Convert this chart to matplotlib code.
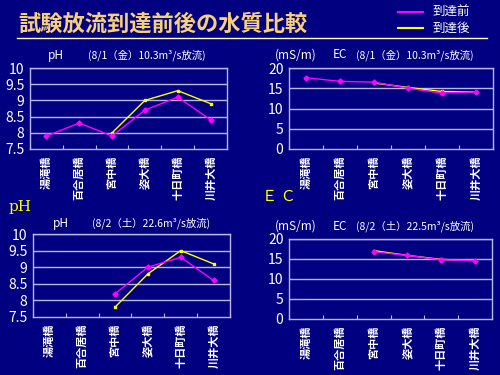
import matplotlib
matplotlib.use('Agg')

import numpy as np
import matplotlib.pyplot as plt

plt.rcParams['font.family'] = ['Noto Sans CJK JP', 'DejaVu Sans']

# stations (upstream -> downstream)
stations = ['湯滝橋', '百合居橋', '宮中橋', '姿大橋', '十日町橋', '川井大橋']
nan = np.nan

# pH 8/1
ph1_before = [7.9, 8.3, 7.9, 8.7, 9.1, 8.4]
ph1_after = [nan, nan, 8.0, 9.0, 9.3, 8.9]
# EC 8/1
ec1_before = [17.6, 16.7, 16.5, 15.0, 13.8, 14.1]
ec1_after = [nan, nan, 16.3, 15.2, 14.2, 14.1]
# pH 8/2
ph2_before = [nan, nan, 8.2, 9.0, 9.3, 8.6]
ph2_after = [nan, nan, 7.8, 8.8, 9.5, 9.1]
# EC 8/2
ec2_before = [nan, nan, 16.8, 15.9, 14.8, 14.6]
ec2_after = [nan, nan, 17.1, 15.9, 14.9, 14.6]

ph_ticks = [7.5, 8, 8.5, 9, 9.5, 10]
ec_ticks = [0, 5, 10, 15, 20]

BG = '#000080'
GRID = '#b8b8e8'
MAG = '#ff00ff'
YEL = '#ffff00'

W, H = 500, 375
fig = plt.figure(figsize=(5, 3.75), dpi=100, facecolor=BG)


def px_axes(x0, y0, x1, y1):
    return fig.add_axes([x0 / W, 1 - y1 / H, (x1 - x0) / W, (y1 - y0) / H])


def fx(px):
    return px / W


def fy(py):
    return 1 - py / H


def draw(ax, before, after, ylim, yticks):
    x = np.arange(len(stations))
    ax.set_facecolor(BG)
    for y in yticks[1:]:
        ax.axhline(y, color=GRID, lw=1)
    ax.plot(x, after, color=YEL, lw=1, marker='s', ms=1.8, mfc=YEL, mec=YEL, zorder=3)
    ax.plot(x, before, color=MAG, lw=1, marker='D', ms=2.6, mfc=MAG, mec=MAG, zorder=4)
    ax.set_xlim(-0.5, len(stations) - 0.5)
    ax.set_ylim(*ylim)
    ax.set_yticks(yticks)
    ax.set_yticklabels(['%g' % v for v in yticks], color='white', fontsize=10)
    ax.set_xticks(np.arange(len(stations) + 1) - 0.5)
    ax.set_xticklabels([])
    ax.set_xticks(x, minor=True)
    ax.set_xticklabels(stations, minor=True, rotation=90, color='white',
                       fontsize=8, fontweight='bold')
    ax.tick_params(axis='x', which='major', direction='in', length=3, color=GRID)
    ax.tick_params(axis='x', which='minor', length=0, pad=5)
    ax.tick_params(axis='y', length=0, pad=4)
    for s in ax.spines.values():
        s.set_color(GRID)
        s.set_linewidth(1)


ax1 = px_axes(30, 68, 227, 149)
draw(ax1, ph1_before, ph1_after, (7.5, 10), ph_ticks)
ax2 = px_axes(289, 68, 493, 149)
draw(ax2, ec1_before, ec1_after, (0, 20), ec_ticks)
ax3 = px_axes(33, 234, 230, 317)
draw(ax3, ph2_before, ph2_after, (7.5, 10), ph_ticks)
ax4 = px_axes(289, 239, 492, 319)
draw(ax4, ec2_before, ec2_after, (0, 20), ec_ticks)

# chart titles
tkw = dict(color='white', fontsize=8.5, va='center', ha='left')
dkw = dict(color='white', fontsize=7.5, va='center', ha='left')
fig.text(fx(48), fy(55), 'pH', **tkw)
fig.text(fx(88), fy(55), '(8/1（金）10.3m³/s放流)', **dkw)
fig.text(fx(275), fy(55), '(mS/m)', **tkw)
fig.text(fx(333), fy(55), 'EC', **tkw)
fig.text(fx(356), fy(55), '(8/1（金）10.3m³/s放流)', **dkw)
fig.text(fx(53), fy(223), 'pH', **tkw)
fig.text(fx(92), fy(223), '(8/2（土）22.6m³/s放流)', **dkw)
fig.text(fx(275), fy(226), '(mS/m)', **tkw)
fig.text(fx(333), fy(226), 'EC', **tkw)
fig.text(fx(356), fy(226), '(8/2（土）22.5m³/s放流)', **dkw)

# header
fig.text(fx(18), fy(31), '試験放流到達前後の水質比較', color='#f8d078',
         fontsize=16, fontweight='bold', ha='left', va='baseline')
fig.add_artist(plt.Line2D([fx(17), fx(487)], [fy(38), fy(38)], color='white', lw=1))
fig.add_artist(plt.Line2D([fx(398), fx(423)], [fy(12), fy(12)], color=MAG, lw=1.5))
fig.add_artist(plt.Line2D([fx(398), fx(423)], [fy(28), fy(28)], color=YEL, lw=1.5))
fig.text(fx(433), fy(12), '到達前', color='white', fontsize=9, va='center')
fig.text(fx(433), fy(28), '到達後', color='white', fontsize=9, va='center')

# section labels
fig.text(fx(9), fy(207), 'pH', color=YEL, fontsize=11, family='DejaVu Serif',
         va='center', ha='left')
fig.text(fx(262), fy(196), 'Ｅ Ｃ', color=YEL, fontsize=11, va='center', ha='left')

fig.savefig('out.png', facecolor=BG)
plt.close(fig)
